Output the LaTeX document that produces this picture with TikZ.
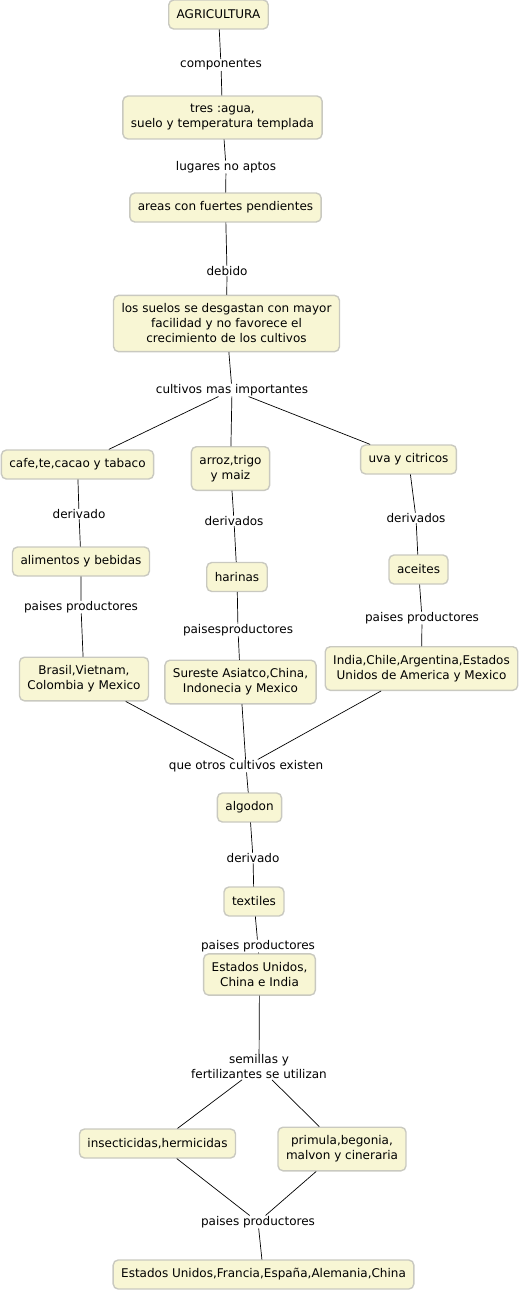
\documentclass[tikz,border=0pt]{standalone}
\usepackage{fontspec}
\setmainfont{DejaVu Sans}
\usepackage{tikz}

\definecolor{cmapfill}{HTML}{F8F6D4}
\definecolor{cmapline}{HTML}{C9C9C0}

\tikzset{
  concept/.style={draw=cmapline, line width=1.4pt, fill=cmapfill, rounded corners=5pt,
    align=center, inner xsep=8pt, inner ysep=8.5pt, minimum height=29pt,
    font=\fontsize{12}{15}\selectfont},
  phrase/.style={align=center, inner sep=0.6pt, font=\fontsize{12}{15}\selectfont},
  link/.style={black, line width=0.7pt}
}

\begin{document}
\begin{tikzpicture}[x=1pt, y=-1pt, line cap=round]
  \useasboundingbox (0,0) rectangle (527,1291);
  % concepts
  \node[concept] (agri)  at (218.5,14.5) {AGRICULTURA};
  \node[concept] (tres)  at (222.5,117.5) {tres :agua,\\suelo y temperatura templada};
  \node[concept] (areas) at (225.5,207.5) {areas con fuertes pendientes};
  \node[concept] (suelos) at (226.5,323.5) {los suelos se desgastan con mayor\\facilidad y no favorece el\\crecimiento de los cultivos};
  \node[concept] (cafe)  at (77.5,464.5) {cafe,te,cacao y tabaco};
  \node[concept] (arroz) at (230.5,468.5) {arroz,trigo\\y maiz};
  \node[concept] (uva)   at (408.5,459.5) {uva y citricos};
  \node[concept] (alim)  at (81,561.5) {alimentos y bebidas};
  \node[concept] (harin) at (237,577) {harinas};
  \node[concept] (aceit) at (418.5,569.5) {aceites};
  \node[concept] (brasil) at (84,679) {Brasil,Vietnam,\\Colombia y Mexico};
  \node[concept] (sures) at (240.5,682) {Sureste Asiatco,China,\\Indonecia y Mexico};
  \node[concept] (india) at (421.5,668.5) {India,Chile,Argentina,Estados\\Unidos de America y Mexico};
  \node[concept] (algod) at (249.5,807.5) {algodon};
  \node[concept] (texti) at (254,901.5) {textiles};
  \node[concept] (euci)  at (259.5,974.5) {Estados Unidos,\\China e India};
  \node[concept] (insec) at (157.5,1143.5) {insecticidas,hermicidas};
  \node[concept] (primu) at (342,1149) {primula,begonia,\\malvon y cineraria};
  \node[concept] (eufr)  at (263.5,1274.5) {Estados Unidos,Francia,España,Alemania,China};
  % linking phrases
  \node[phrase] (l1)  at (221,65) {componentes};
  \node[phrase] (l2)  at (226,167) {lugares no aptos};
  \node[phrase] (l3)  at (227,271) {debido};
  \node[phrase] (l4)  at (232,390) {cultivos mas importantes};
  \node[phrase] (l5)  at (79,514) {derivado};
  \node[phrase] (l6)  at (234,521) {derivados};
  \node[phrase] (l7)  at (416,518) {derivados};
  \node[phrase] (l8)  at (81,607) {paises productores};
  \node[phrase] (l9)  at (238,630) {paisesproductores};
  \node[phrase] (l10) at (422,618) {paises productores};
  \node[phrase] (l11) at (246,766) {que otros cultivos existen};
  \node[phrase] (l12) at (253,858) {derivado};
  \node[phrase] (l13) at (258,946) {paises productores};
  \node[phrase] (l14) at (259,1067) {semillas y\\fertilizantes se utilizan};
  \node[phrase] (l15) at (258,1222) {paises productores};
  % connectors
  \draw[link] (agri) -- (l1) -- (tres);
  \draw[link] (tres) -- (l2) -- (areas);
  \draw[link] (areas) -- (l3) -- (suelos);
  \draw[link] (suelos) -- (l4);
  \foreach \c in {cafe,arroz,uva}
    \draw[link] (l4) -- (\c);
  \draw[link] (cafe) -- (l5) -- (alim) -- (l8) -- (brasil);
  \draw[link] (arroz) -- (l6) -- (harin) -- (l9) -- (sures);
  \draw[link] (uva) -- (l7) -- (aceit) -- (l10) -- (india);
  \foreach \c in {brasil,sures,india}
    \draw[link] (\c) -- (l11);
  \draw[link] (l11) -- (algod) -- (l12) -- (texti) -- (l13) -- (euci) -- (l14);
  \foreach \c in {insec,primu}
    \draw[link] (l14) -- (\c) -- (l15);
  \draw[link] (l15) -- (eufr);
\end{tikzpicture}
\end{document}
